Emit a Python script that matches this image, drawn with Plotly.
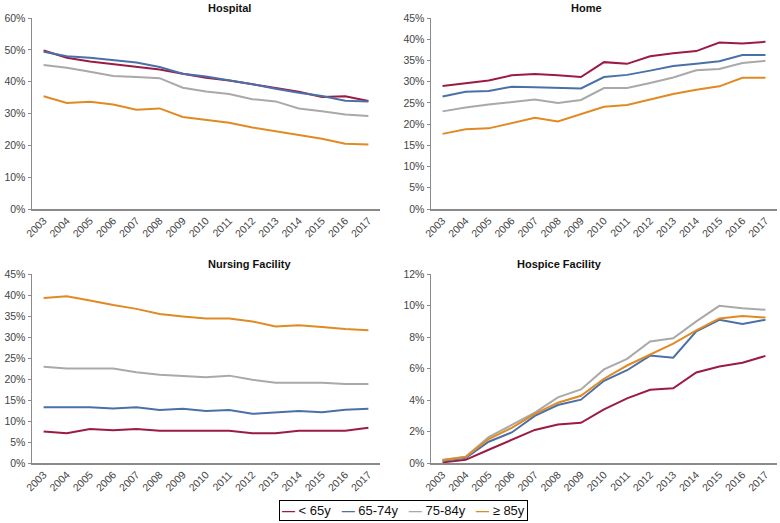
import plotly.graph_objects as go
from plotly.subplots import make_subplots

years = [str(y) for y in range(2003, 2018)]
groups = ["< 65y", "65-74y", "75-84y", "≥ 85y"]
colors = ["#9B1B45", "#4A70A8", "#A9A9A9", "#E08A24"]

hospital = {
    "< 65y": [49.8, 47.5, 46.3, 45.5, 44.7, 43.8, 42.5, 41.2, 40.4, 39.3, 38.0, 36.8, 35.2, 35.4, 33.9],
    "65-74y": [49.4, 48.0, 47.5, 46.8, 46.0, 44.6, 42.5, 41.6, 40.5, 39.2, 37.8, 36.5, 35.5, 34.0, 33.8],
    "75-84y": [45.2, 44.4, 43.1, 41.8, 41.5, 41.1, 38.1, 36.9, 36.1, 34.5, 33.8, 31.6, 30.7, 29.7, 29.2],
    "≥ 85y": [35.4, 33.3, 33.7, 32.8, 31.2, 31.6, 28.9, 27.9, 27.1, 25.6, 24.4, 23.4, 22.1, 20.5, 20.3],
}
home = {
    "< 65y": [29.0, 29.7, 30.3, 31.5, 31.8, 31.5, 31.1, 34.6, 34.2, 36.0, 36.7, 37.2, 39.2, 39.0, 39.4],
    "65-74y": [26.5, 27.6, 27.8, 28.8, 28.7, 28.5, 28.4, 31.1, 31.6, 32.6, 33.7, 34.2, 34.8, 36.3, 36.3],
    "75-84y": [23.0, 23.9, 24.6, 25.2, 25.8, 25.0, 25.7, 28.5, 28.5, 29.7, 31.0, 32.7, 33.0, 34.4, 34.9],
    "≥ 85y": [17.7, 18.8, 19.0, 20.3, 21.5, 20.6, 22.3, 24.1, 24.5, 25.8, 27.1, 28.1, 28.9, 30.9, 30.9],
}
nursing = {
    "< 65y": [7.5, 7.1, 8.1, 7.8, 8.1, 7.7, 7.7, 7.7, 7.7, 7.1, 7.1, 7.7, 7.7, 7.7, 8.4],
    "65-74y": [13.3, 13.3, 13.3, 13.0, 13.3, 12.6, 12.9, 12.4, 12.6, 11.7, 12.1, 12.4, 12.1, 12.7, 12.9],
    "75-84y": [22.9, 22.5, 22.5, 22.5, 21.6, 21.0, 20.7, 20.4, 20.8, 19.8, 19.1, 19.1, 19.1, 18.8, 18.8],
    "≥ 85y": [39.3, 39.7, 38.7, 37.6, 36.7, 35.5, 34.9, 34.4, 34.4, 33.7, 32.5, 32.8, 32.4, 31.9, 31.6],
}
hospice = {
    "< 65y": [0.04, 0.2, 0.84, 1.45, 2.1, 2.44, 2.55, 3.4, 4.1, 4.65, 4.74, 5.75, 6.13, 6.36, 6.8],
    "65-74y": [0.15, 0.32, 1.35, 1.94, 2.99, 3.68, 4.02, 5.22, 5.89, 6.82, 6.69, 8.36, 9.09, 8.82, 9.09],
    "75-84y": [0.21, 0.4, 1.64, 2.44, 3.2, 4.17, 4.67, 5.94, 6.61, 7.71, 7.92, 8.99, 9.98, 9.83, 9.73],
    "≥ 85y": [0.17, 0.38, 1.52, 2.23, 3.12, 3.83, 4.27, 5.35, 6.19, 6.86, 7.58, 8.42, 9.18, 9.33, 9.24],
}

panels = [
    ("Hospital", hospital, 1, 1, 60, 10),
    ("Home", home, 1, 2, 45, 5),
    ("Nursing Facility", nursing, 2, 1, 45, 5),
    ("Hospice Facility", hospice, 2, 2, 12, 2),
]

fig = make_subplots(rows=2, cols=2)

for title, data, r, c, ymax, step in panels:
    for g, col in zip(groups, colors):
        fig.add_trace(go.Scatter(
            x=years, y=data[g], mode="lines", name=g,
            line=dict(color=col, width=2),
            showlegend=False,
        ), row=r, col=c)
    fig.update_yaxes(range=[0, ymax], dtick=step, ticksuffix="%", row=r, col=c)

W, H = 780, 523
xdom = [[32 / W, 380 / W], [431 / W, 777 / W]]
ydom = [[1 - 209 / H, 1 - 18 / H], [1 - 463 / H, 1 - 274 / H]]

axis_style = dict(showline=True, linecolor="#8a8a8a", linewidth=1.5,
                  showgrid=False, zeroline=False, automargin=False,
                  showspikes=False, tickfont=dict(size=10.5, color="#444"))

for i, (title, data, r, c, ymax, step) in enumerate(panels):
    n = "" if i == 0 else str(i + 1)
    fig.layout["xaxis" + n].update(domain=xdom[c - 1], type="category",
                                   range=[-0.5, 14.5], tickangle=-45,
                                   ticks="", **axis_style)
    fig.layout["yaxis" + n].update(domain=ydom[r - 1], ticks="outside",
                                   ticklen=3, tickcolor="#8a8a8a", **axis_style)
    fig.add_annotation(text="<b>" + title + "</b>", xref="paper", yref="paper",
                       x=sum(xdom[c - 1]) / 2,
                       y=ydom[r - 1][1] + 10 / H, yanchor="middle",
                       showarrow=False, font=dict(size=11, color="#111"))

# legend drawn as one boxed annotation (short line samples like the original)
legend_text = "   ".join(
    f'<span style="color:{col}"><b>—</b></span> {g}' for g, col in zip(groups, colors)
)
fig.add_annotation(text=legend_text, xref="paper", yref="paper",
                   x=403 / W, y=1 - 510 / H, xanchor="center", yanchor="middle",
                   showarrow=False, font=dict(size=13, color="#111"),
                   bordercolor="black", borderwidth=1, borderpad=2,
                   bgcolor="white")

fig.update_layout(
    width=W, height=H,
    margin=dict(l=0, r=0, t=0, b=0),
    paper_bgcolor="white", plot_bgcolor="white",
    font=dict(family="Liberation Sans, Arial, sans-serif"),
    showlegend=False,
    hovermode=False,
)

# drop the browser's default body margin so the figure fills the window
fig.write_html("out.html",
               config={"displayModeBar": False, "staticPlot": True},
               post_script="document.body.style.margin='0';"
                           "document.body.style.overflow='hidden';")
